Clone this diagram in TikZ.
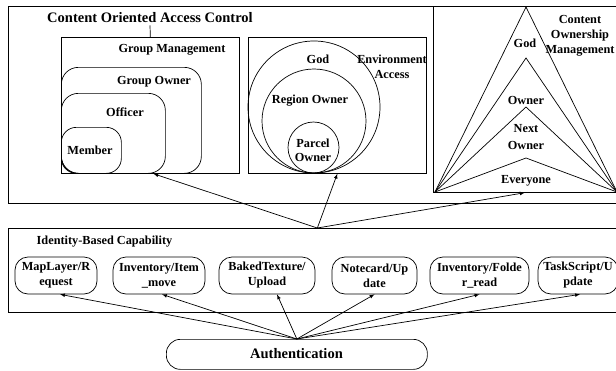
\documentclass[tikz,border=0pt]{standalone}
\usepackage{fontspec}
\setmainfont{Liberation Serif}
\usetikzlibrary{arrows}

\tikzset{
	box/.style={draw, shape=rectangle, inner sep=0pt, anchor=north west},
	rbox/.style={box, rounded corners=#1},
	capbox/.style={draw, shape=rectangle, rounded corners=13pt, inner sep=0pt, minimum height=37pt, align=center, font=\bfseries\fontsize{12.3}{15}\selectfont},
	lbl/.style={inner sep=0pt, align=center, font=\bfseries\fontsize{12.3}{15}\selectfont},
	biglbl/.style={inner sep=2pt, font=\bfseries\fontsize{14.5}{17}\selectfont},
}

\begin{document}
\begin{tikzpicture}[x=1pt, y=-1pt, line width=0.7pt]
	\useasboundingbox (0,0) rectangle (616,370);
	% Paths, nodes and boxes:
	\node[box, minimum width=618pt, minimum height=197pt](coac) at (8,6){};
	\node[biglbl](coactitle) at (150,18){Content Oriented Access Control};
	% group management
	\node[box, minimum width=178pt, minimum height=136pt](gm) at (61,37){};
	\node[rbox=17pt, minimum width=140pt, minimum height=106pt](gowner) at (61,67){};
	\node[rbox=17pt, minimum width=104pt, minimum height=80pt](officer) at (61,93){};
	\node[rbox=15pt, minimum width=60pt, minimum height=46pt](member) at (61,127){};
	\node[lbl](gmlbl) at (172,50){Group Management};
	\node[lbl](golbl) at (154,82){Group Owner};
	\node[lbl](offlbl) at (125,112){Officer};
	\node[lbl](memlbl) at (90,150){Member};
	\draw (coactitle.south) -- (gm.north);
	% environment access
	\node[box, minimum width=178pt, minimum height=136pt](env) at (248,37){};
	\node[draw, circle, inner sep=0pt, minimum size=132pt](godc) at (314,107){};
	\node[draw, circle, inner sep=0pt, minimum size=104pt](regc) at (314,121){};
	\node[draw, circle, inner sep=0pt, minimum size=51pt](parc) at (313.5,147.5){};
	\node[lbl](godlbl) at (318,59){God};
	\node[lbl](reglbl) at (310,101){Region Owner};
	\node[lbl, font=\bfseries\fontsize{12.3}{14}\selectfont](parlbl) at (313,150){Parcel\\Owner};
	\node[lbl](envlbl) at (392,67){Environment\\Access};
	% ownership triangles
	\node[box, minimum width=183pt, minimum height=186pt](tri) at (433,6){};
	\coordinate (tl) at (435,192);
	\coordinate (tr) at (617,192);
	\coordinate (a1) at (526,7);
	\coordinate (a2) at (526,58);
	\coordinate (a3) at (526,107);
	\coordinate (a4) at (526,158);
	\draw (tl) -- (a1) -- (tr);
	\draw (tl) -- (a2) -- (tr);
	\draw (tl) -- (a3) -- (tr);
	\draw (tl) -- (a4) -- (tr);
	\node[lbl](tgodlbl) at (525,43){God};
	\node[lbl](townlbl) at (526,100){Owner};
	\node[lbl, font=\bfseries\fontsize{12.3}{16.5}\selectfont](tnextlbl) at (526,137){Next\\Owner};
	\node[lbl](teverlbl) at (526,181){Everyone};
	\node[lbl](comlbl) at (580,36){Content\\Ownership\\Management};
	% identity-based capability
	\node[box, minimum width=618pt, minimum height=84pt](ibc) at (8,228){};
	\node[lbl](ibclbl) at (104.5,242){Identity-Based Capability};
	\node[capbox, minimum width=82pt](c1) at (56,275.5){MapLayer/R\\equest};
	\node[capbox, minimum width=92pt](c2) at (159,275.5){Inventory/Item\\\_move};
	\node[capbox, minimum width=96pt](c3) at (267,275.5){BakedTexture/\\Upload};
	\node[capbox, minimum width=85pt](c4) at (374.5,275.5){Notecard/Up\\date};
	\node[capbox, minimum width=99pt](c5) at (479.5,275.5){Inventory/Folde\\r\_read};
	\node[capbox, minimum width=80pt](c6) at (578,275.5){TaskScript/U\\pdate};
	% authentication
	\node[rbox=14pt, minimum width=261pt, minimum height=30pt](auth) at (166,339){};
	\node[biglbl](authlbl) at (296.5,354){Authentication};
	% arrows
	\draw[-latex] (auth.north) -- ([xshift=4pt]c1.south);
	\draw[-latex] (auth.north) -- ([xshift=3pt]c2.south);
	\draw[-latex] (auth.north) -- ([xshift=10pt]c3.south);
	\draw[-latex] (auth.north) -- (c4.south);
	\draw[-latex] (auth.north) -- (c5.south);
	\draw[-latex] (auth.north) -- ([xshift=2pt]c6.south);
	\draw[-latex] (ibc.north) -- ([xshift=3pt]gm.south);
	\draw[-latex] (ibc.north) -- (env.south);
	\draw[-latex] (ibc.north) -- (tri.south);
\end{tikzpicture}
\end{document}
